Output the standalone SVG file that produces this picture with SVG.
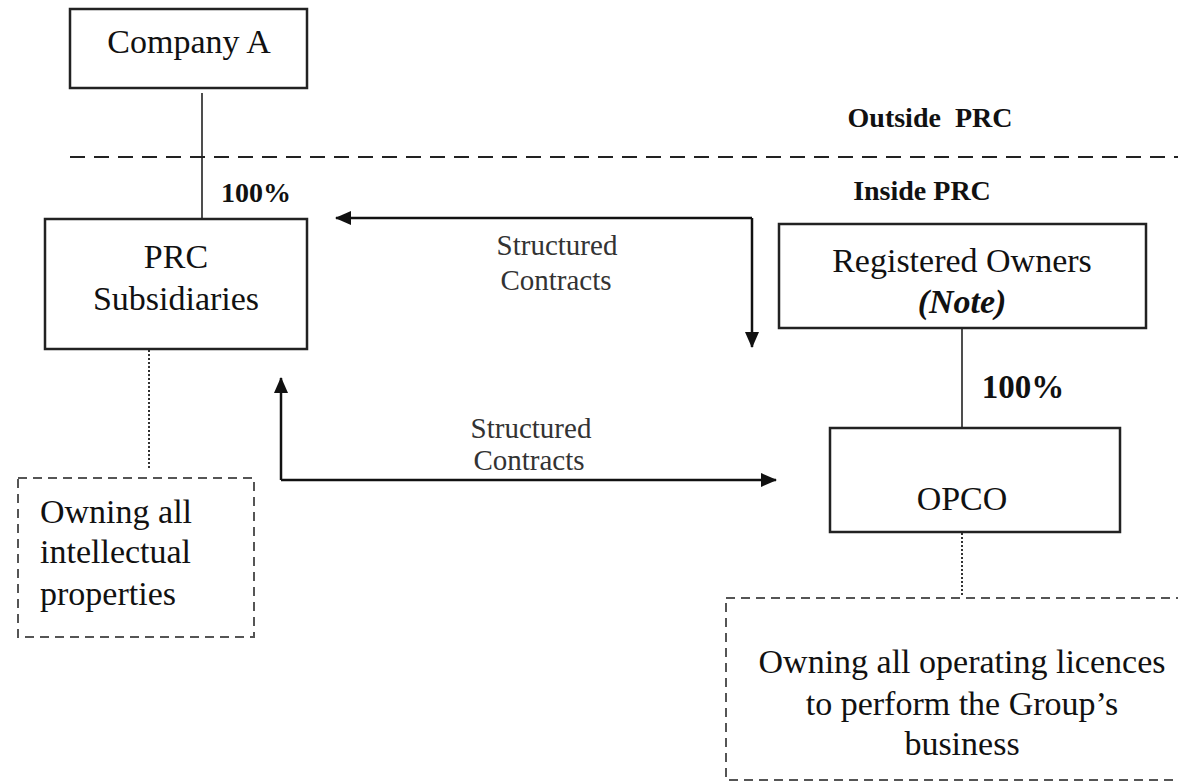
<svg xmlns="http://www.w3.org/2000/svg" width="1178" height="781" viewBox="0 0 1178 781">
<style>
.box{fill:#fff;stroke:#222;stroke-width:2.5}
.note{fill:none;stroke:#555;stroke-width:2;stroke-dasharray:9 6}
.t{font-family:"Liberation Serif","Times New Roman",serif;font-size:34px;fill:#111;text-anchor:middle}
.tl{text-anchor:start}
.b{font-weight:bold;font-size:28px}
.lab{font-family:"Liberation Serif","Times New Roman",serif;font-size:29px;fill:#333;text-anchor:middle}
.con{fill:none;stroke:#111;stroke-width:2.5}
.thin{fill:none;stroke:#222;stroke-width:1.6}
.dot{fill:none;stroke:#333;stroke-width:2;stroke-dasharray:2 2}
</style>
<defs>
<marker id="ah" viewBox="0 0 16 14" refX="15" refY="7" markerWidth="16" markerHeight="14" markerUnits="userSpaceOnUse" orient="auto">
<path d="M0,0 L16,7 L0,14 z" fill="#111"/>
</marker>
</defs>
<rect width="1178" height="781" fill="#fff"/>

<line x1="70" y1="157" x2="1178" y2="157" stroke="#222" stroke-width="2.2" stroke-dasharray="15 9"/>
<text class="t b" x="930" y="127" style="white-space:pre">Outside  PRC</text>
<text class="t b" x="922" y="200">Inside PRC</text>

<g id="connectors">
<line class="thin" x1="202" y1="93" x2="202" y2="225"/>
<line class="thin" x1="962" y1="322" x2="962" y2="428"/>
<line class="dot" x1="149" y1="350" x2="149" y2="470"/>
<line class="dot" x1="962" y1="533" x2="962" y2="597"/>
<path class="con" d="M752,218 H336" marker-end="url(#ah)"/>
<path class="con" d="M752,218 V347" marker-end="url(#ah)"/>
<path class="con" d="M281,480 V378" marker-end="url(#ah)"/>
<path class="con" d="M281,480 H776" marker-end="url(#ah)"/>
<text class="t b" x="256" y="202">100%</text>
<text class="t b" x="1023" y="398" style="font-size:33px">100%</text>
<text class="lab" x="557" y="255">Structured</text>
<text class="lab" x="556" y="290">Contracts</text>
<text class="lab" x="531" y="438">Structured</text>
<text class="lab" x="529" y="470">Contracts</text>
</g>

<g id="companyA">
<rect class="box" x="70" y="9" width="237" height="79"/>
<text class="t" x="189" y="53">Company A</text>
</g>

<g id="prcSubsidiaries">
<rect class="box" x="45" y="219" width="262" height="130"/>
<text class="t" x="176" y="268">PRC</text>
<text class="t" x="176" y="310">Subsidiaries</text>
</g>

<g id="registeredOwners">
<rect class="box" x="779" y="224" width="367" height="104"/>
<text class="t" x="962" y="272">Registered Owners</text>
<text class="t" x="962" y="313" style="font-weight:bold;font-style:italic">(Note)</text>
</g>

<g id="opco">
<rect class="box" x="830" y="428" width="290" height="104"/>
<text class="t" x="962" y="510">OPCO</text>
</g>

<g id="ipNote">
<rect class="note" x="18" y="478" width="236" height="159"/>
<text class="t tl" x="40" y="523">Owning all</text>
<text class="t tl" x="40" y="563">intellectual</text>
<text class="t tl" x="40" y="605">properties</text>
</g>

<g id="licenceNote">
<rect class="note" x="726" y="598" width="470" height="182"/>
<text class="t" x="962" y="673">Owning all operating licences</text>
<text class="t" x="962" y="715">to perform the Group’s</text>
<text class="t" x="962" y="755">business</text>
</g>
</svg>
